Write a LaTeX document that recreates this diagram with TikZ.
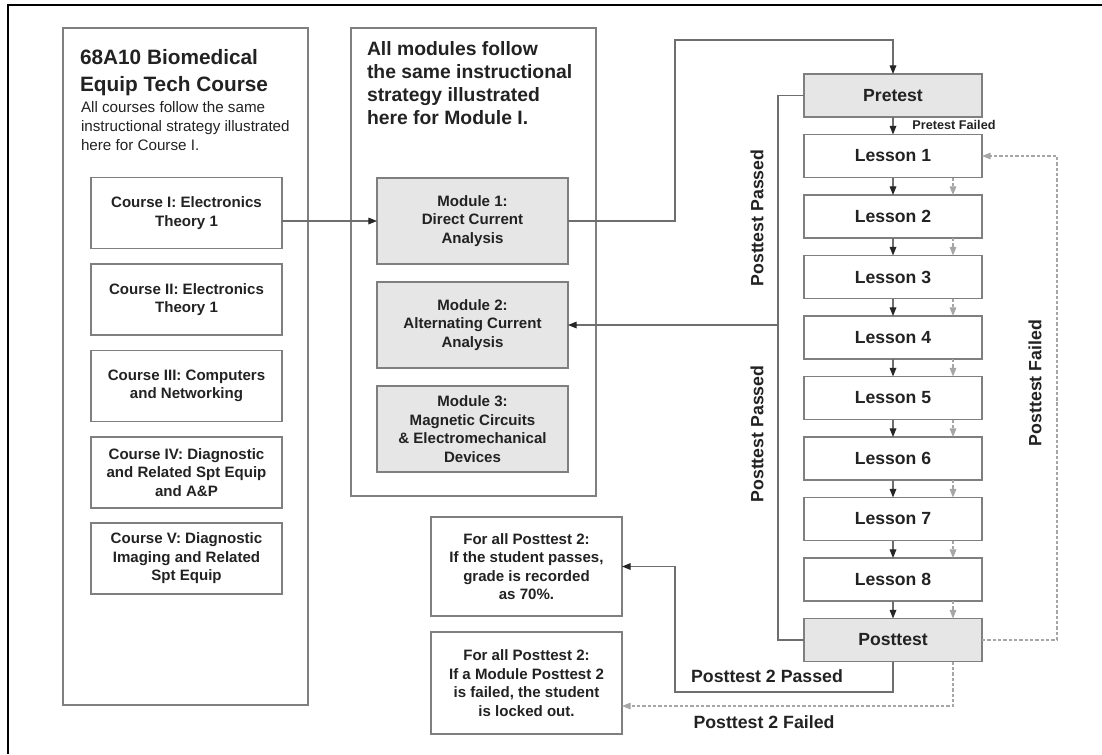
\documentclass[tikz,border=0pt]{standalone}
\usepackage{fontspec}
\setmainfont{Liberation Sans}
\usetikzlibrary{arrows.meta}
\definecolor{boxline}{HTML}{7F7F7F}
\definecolor{wire}{HTML}{6E6E6E}
\definecolor{shade}{HTML}{E6E6E6}
\definecolor{ink}{HTML}{222222}
\definecolor{faint}{HTML}{A6A6A6}
\begin{document}
\begin{tikzpicture}[x=0.75pt,y=-0.75pt,
  every node/.style={inner sep=0pt, outer sep=0pt, text=ink},
  outline/.style={draw=boxline, line width=0.9pt},
  panel/.style={outline, minimum width=183.75pt},
  item/.style={outline, align=center, minimum width=143.25pt,
    font=\fontsize{11.3pt}{13.9pt}\selectfont\bfseries},
  course/.style={item, minimum height=53.25pt},
  module/.style={item, minimum height=64.5pt, fill=shade},
  stage/.style={outline, minimum width=133.5pt, minimum height=32.25pt,
    font=\fontsize{13.2pt}{15pt}\selectfont\bfseries},
  note/.style={item},
  flow/.style={draw=wire, line width=0.9pt},
  tip/.style={-{Triangle[length=6.5pt,width=5pt,color=black!85]}},
  faintflow/.style={draw=faint, line width=0.8pt, dash pattern=on 2.5pt off 1.5pt},
  fainttip/.style={-{Triangle[length=6.5pt,width=5pt,color=faint]}},
  tag/.style={font=\fontsize{13.3pt}{15pt}\selectfont\bfseries}
]
\useasboundingbox (0,0) rectangle (1102,754);

% page frame: top and left rules
\draw[line width=1.7pt] (1102,5) -- (7.8,5) -- (7.8,754);

% course column
\node[panel, minimum height=507.75pt] (coursepanel) at (185.5,366.5) {};
\node[anchor=north west, align=left, font=\fontsize{15.6pt}{20.25pt}\selectfont\bfseries]
  (coursetitle) at (80,49) {68A10 Biomedical\\Equip Tech Course};
\node[anchor=north west, align=left, font=\fontsize{11.4pt}{14.25pt}\selectfont]
  (coursenote) at (81,101) {All courses follow the same\\instructional strategy illustrated\\here for Course I.};
\node[course] (c1) at (186.5,213) {Course I: Electronics\\Theory 1};
\node[course] (c2) at (186.5,299.5) {Course II: Electronics\\Theory 1};
\node[course] (c3) at (186.5,386) {Course III: Computers\\and Networking};
\node[course] (c4) at (186.5,472.5) {Course IV: Diagnostic\\and Related Spt Equip\\and A\&P};
\node[course] (c5) at (186.5,558.5) {Course V: Diagnostic\\Imaging and Related\\Spt Equip};

% module column
\node[panel, minimum height=351pt] (modpanel) at (473.5,262) {};
\node[anchor=north west, align=left, font=\fontsize{14.5pt}{17.25pt}\selectfont\bfseries]
  (modnote) at (367,41.5) {All modules follow\\the same instructional\\strategy illustrated\\here for Module I.};
\node[module] (m1) at (472.5,221) {Module 1:\\Direct Current\\Analysis};
\node[module] (m2) at (472.5,325) {Module 2:\\Alternating Current\\Analysis};
\node[module] (m3) at (472.5,429) {Module 3:\\Magnetic Circuits\\\& Electromechanical\\Devices};

% lesson sequence
\node[stage, fill=shade] (pre) at (893,95.5) {Pretest};
\node[stage] (l1) at (893,156) {Lesson 1};
\node[stage] (l2) at (893,216.5) {Lesson 2};
\node[stage] (l3) at (893,277) {Lesson 3};
\node[stage] (l4) at (893,337.5) {Lesson 4};
\node[stage] (l5) at (893,398) {Lesson 5};
\node[stage] (l6) at (893,458.5) {Lesson 6};
\node[stage] (l7) at (893,519) {Lesson 7};
\node[stage] (l8) at (893,579.5) {Lesson 8};
\node[stage, fill=shade] (post) at (893,640) {Posttest};

% outcome notes
\node[note, minimum height=74.25pt] (pass) at (526.5,566.5) {For all Posttest 2:\\If the student passes,\\grade is recorded\\as 70\%.};
\node[note, minimum height=76.5pt] (fail) at (526.5,683) {For all Posttest 2:\\If a Module Posttest 2\\is failed, the student\\is locked out.};

% route points
\coordinate (up) at (675,40);
\coordinate (bus) at (778,400);
\coordinate (back) at (1057,400);
\coordinate (low) at (675,692);
\coordinate (lowfail) at (0,706);

% course to module, module to pretest
\draw[flow, tip] (c1.east |- m1.west) -- (m1.west);
\draw[flow, tip] (m1.east) -| (up) -| (pre.north);

% main lesson chain
\foreach \a/\b in {pre/l1, l1/l2, l2/l3, l3/l4, l4/l5, l5/l6, l6/l7, l7/l8, l8/post}
  \draw[flow, tip] (\a.south) -- (\b.north);
\foreach \a/\b in {l1/l2, l2/l3, l3/l4, l4/l5, l5/l6, l6/l7, l7/l8, l8/post}
  \draw[faintflow, fainttip] ([xshift=45pt]\a.south) -- ([xshift=45pt]\b.north);

% passed: skip ahead to next module
\draw[flow] (pre.west) -| (bus) |- (post.west);
\draw[flow, tip] (bus |- m2.east) -- (m2.east);

% failed: back to lesson 1
\draw[faintflow, fainttip] (post.east) -| (back) |- (l1.east);

% second posttest outcomes
\draw[flow, tip] (post.south) |- (low) |- (pass.east);
\draw[faintflow, fainttip] ([xshift=45pt]post.south) |- (fail.east |- lowfail);

% labels
\node[font=\fontsize{9.5pt}{11pt}\selectfont\bfseries] (pflabel) at (954,125) {Pretest Failed};
\node[tag, rotate=90] (pp1) at (757,218) {Posttest Passed};
\node[tag, rotate=90] (pp2) at (757,434) {Posttest Passed};
\node[tag, rotate=90] (pf) at (1035,383) {Posttest Failed};
\node[tag] (p2p) at (767,676) {Posttest 2 Passed};
\node[tag] (p2f) at (764,722) {Posttest 2 Failed};
\end{tikzpicture}
\end{document}
